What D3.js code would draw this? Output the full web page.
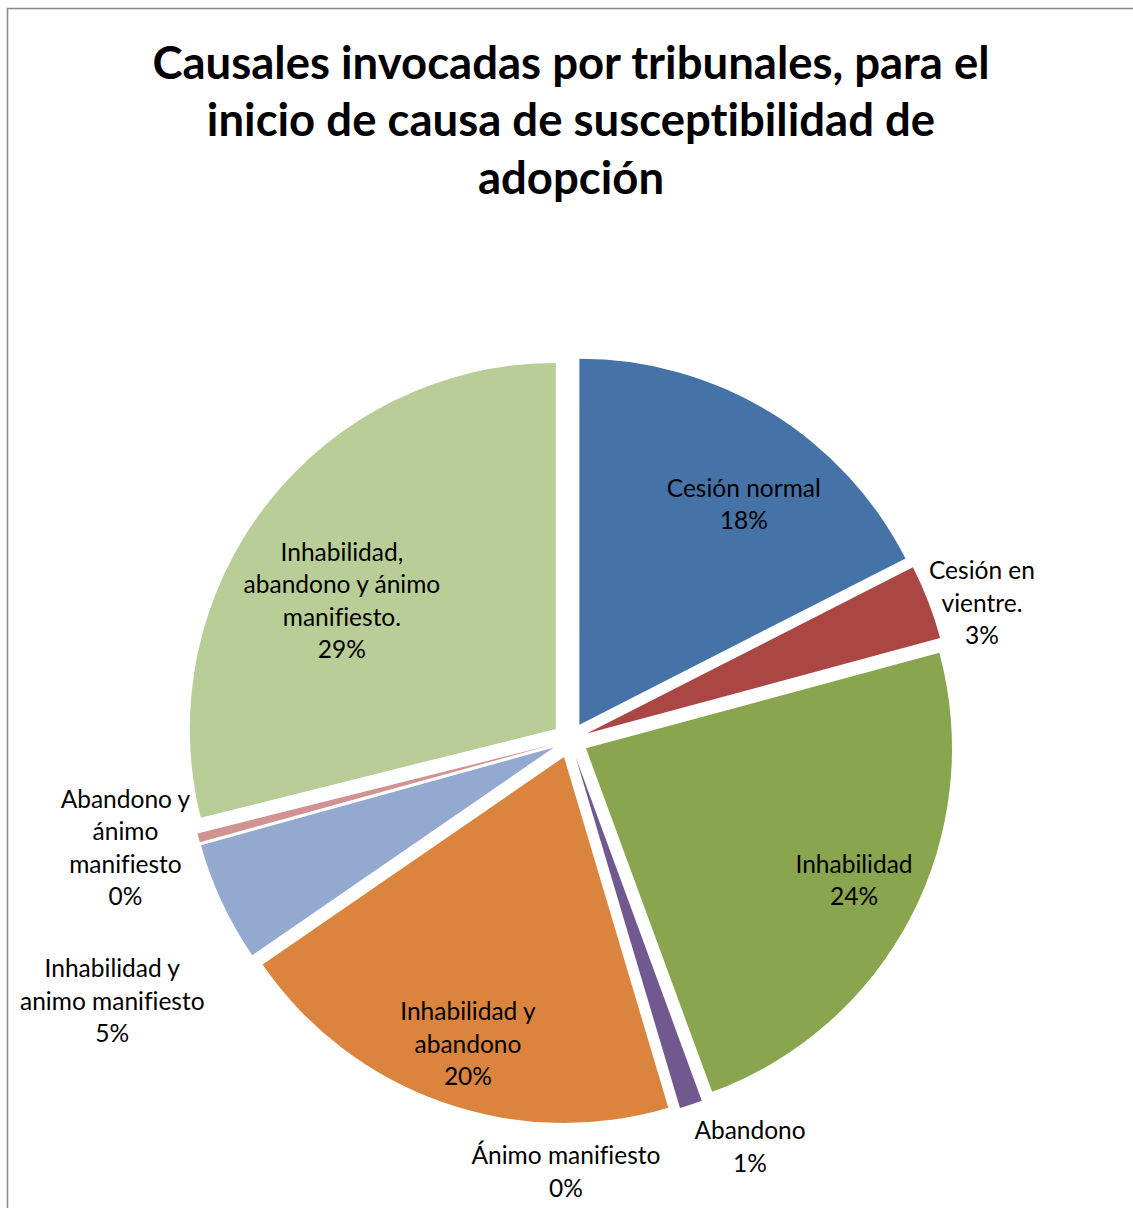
<!DOCTYPE html>
<html>
<head>
<meta charset="utf-8">
<script src="https://cdn.jsdelivr.net/npm/d3@7"></script>
<style>
  html, body { margin: 0; padding: 0; background: #fff; }
  svg { display: block; }
  text { font-variant-ligatures: none; }
</style>
</head>
<body>
<div id="chart"></div>
<script>
// Chart data (percent of cases)
const categories = [
    "Cesión normal",
    "Cesión en vientre.",
    "Inhabilidad",
    "Abandono",
    "Ánimo manifiesto",
    "Inhabilidad y abandono",
    "Inhabilidad y animo manifiesto",
    "Abandono y ánimo manifiesto",
    "Inhabilidad, abandono y ánimo manifiesto."
];
const values = [17.5, 3.3, 23.6, 1.0, 0, 20.0, 5.3, 0.4, 28.9];
const colors = ["#4572A7", "#AA4643", "#89A54E", "#71588F", "#4198AF",
                "#DB843D", "#93A9CF", "#D19392", "#B9CD96"];

// How each category label is wrapped, like in the original
const labelLines = [
    ["Cesión normal"],
    ["Cesión en", "vientre."],
    ["Inhabilidad"],
    ["Abandono"],
    ["Ánimo manifiesto"],
    ["Inhabilidad y", "abandono"],
    ["Inhabilidad y", "animo manifiesto"],
    ["Abandono y", "ánimo", "manifiesto"],
    ["Inhabilidad,", "abandono y ánimo", "manifiesto."]
];

const titleLines = [
    "Causales invocadas por tribunales, para el",
    "inicio de causa de susceptibilidad de",
    "adopción"
];

// label placement: [angle nudge in degrees, radius factor]
const labelPlace = [[4.9, 0.80], [2.7, 1.186], [-1, 0.866], [-5.5, 1.216], [17.1, 1.18],
                    [-0.9, 0.877], [-4.7, 1.44], [1.1, 1.25], [-6.6, 0.73]];

const width = 1133, height = 1208;
const cx = 570, cy = 740, radius = 366, explode = 18;
const lineH = 32.5;

const svg = d3.select("#chart").append("svg")
    .attr("width", width)
    .attr("height", height);

// chart area border (only left and top are visible in the frame)
svg.append("rect")
    .attr("x", 7.5).attr("y", 8.5)
    .attr("width", 1300).attr("height", 1400)
    .attr("fill", "none")
    .attr("stroke", "#878787")
    .attr("stroke-width", 1.5);

// Title
svg.append("g").selectAll("text")
    .data(titleLines)
    .join("text")
    .attr("x", 571)
    .attr("y", (d, i) => 61 + i * 57.5)
    .attr("text-anchor", "middle")
    .attr("dominant-baseline", "central")
    .style("font-family", "Lato, 'Open Sans', sans-serif")
    .style("font-weight", "bold")
    .style("font-size", "45.5px")
    .text(d => d);

const pie = d3.pie().sort(null).value(d => d);
const arcs = pie(values);
const arc = d3.arc().innerRadius(0).outerRadius(radius);

const g = svg.append("g").attr("transform", `translate(${cx},${cy})`);

// Slices, each pulled out along its bisector
g.selectAll("path")
    .data(arcs)
    .join("path")
    .attr("d", arc)
    .attr("fill", (d, i) => colors[i])
    .attr("transform", d => {
        const mid = (d.startAngle + d.endAngle) / 2;
        return `translate(${Math.sin(mid) * explode},${-Math.cos(mid) * explode})`;
    });

// Data labels: category + percent
const labels = g.selectAll("g.label")
    .data(arcs)
    .join("g")
    .attr("class", "label")
    .attr("transform", (d, i) => {
        const mid = (d.startAngle + d.endAngle) / 2 + labelPlace[i][0] * Math.PI / 180;
        const r = radius * labelPlace[i][1];
        return `translate(${Math.sin(mid) * r},${-Math.cos(mid) * r})`;
    });

labels.each(function(d, i) {
    const lines = labelLines[i].concat([Math.round(values[i]) + "%"]);
    d3.select(this).selectAll("text")
        .data(lines)
        .join("text")
        .attr("x", 0)
        .attr("y", (t, j) => (j - (lines.length - 1) / 2) * lineH - 1)
        .attr("text-anchor", "middle")
        .attr("dominant-baseline", "central")
        .style("font-family", "Lato, 'Open Sans', sans-serif")
        .style("font-size", "24.5px")
        .style("fill", "#000")
        .text(t => t);
});
</script>
</body>
</html>
